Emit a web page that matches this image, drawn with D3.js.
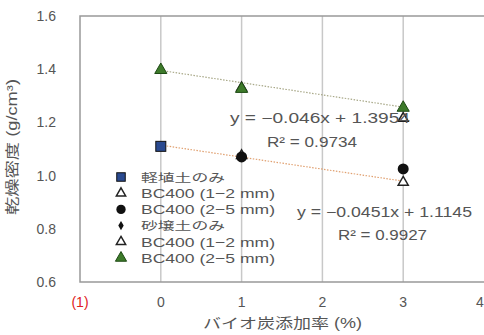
<!DOCTYPE html>
<html><head><meta charset="utf-8">
<script src="https://cdn.jsdelivr.net/npm/d3@7"></script>
<style>body{margin:0;background:#fff}svg{display:block}text{font-family:"Liberation Sans","Noto Sans CJK JP",sans-serif}</style>
</head><body>
<svg id="c" width="484" height="335"></svg>
<script>
const xTicks = [-1, 0, 1, 2, 3, 4];
const xTickLabels = ["(1)", "0", "1", "2", "3", "4"];
const yTicks = [0.6, 0.8, 1.0, 1.2, 1.4, 1.6];
const seriesNames = ["軽埴土のみ", "BC400 (1−2 mm)", "BC400 (2−5 mm)", "砂壌土のみ", "BC400 (1−2 mm)", "BC400 (2−5 mm)"];
const seriesX = [[0], [1, 3], [1, 3], [0], [1, 3], [0, 1, 3]];
const seriesY = [[1.11], [1.075, 0.975], [1.07, 1.025], [1.40], [1.33, 1.215], [1.397, 1.326, 1.255]];
const trendSlope = [-0.0451, -0.046];
const trendIntercept = [1.1145, 1.3954];
const trendText = [["y = −0.0451x + 1.1145", "R² = 0.9927"], ["y = −0.046x + 1.3954", "R² = 0.9734"]];
const xTitle = "バイオ炭添加率 (%)";
const yTitle = "乾燥密度 (g/cm³)";

const svg = d3.select("#c");
const L = 80, R = 484, T = 16, B = 282;
const x = d3.scaleLinear().domain([-1, 4]).range([L, R]);
const y = d3.scaleLinear().domain([0.6, 1.6]).range([B, T]);
const txt = "#555";

// vertical grid
svg.append("g").selectAll("line").data([0, 1, 2, 3]).join("line")
  .attr("x1", d => x(d)).attr("x2", d => x(d)).attr("y1", T).attr("y2", B)
  .attr("stroke", "#c8c8c8").attr("stroke-width", 1.5);

// frame
svg.append("path").attr("d", `M${R},${T}H${L}V${B}H${R}`).attr("fill", "none")
  .attr("stroke", "#999").attr("stroke-width", 1.5);

// y ticks
svg.append("g").selectAll("text").data(yTicks).join("text")
  .attr("x", 56).attr("y", d => y(d) + 5).attr("text-anchor", "end")
  .attr("font-size", 14).attr("fill", txt).text(d => d.toFixed(1));

// x ticks
svg.append("g").selectAll("text").data(xTicks).join("text")
  .attr("x", d => d === 4 ? x(d) - 4 : x(d)).attr("y", 307).attr("text-anchor", "middle")
  .attr("font-size", 14).attr("fill", (d, i) => i === 0 ? "#e02020" : txt)
  .text((d, i) => xTickLabels[i]);

svg.append("text").attr("x", 203).attr("y", 328)
  .attr("font-size", 14).attr("fill", txt)
  .attr("textLength", 159).attr("lengthAdjust", "spacingAndGlyphs").text(xTitle);
svg.append("text").attr("transform", "translate(17,215) rotate(-90)")
  .attr("font-size", 14).attr("fill", txt)
  .attr("textLength", 136).attr("lengthAdjust", "spacingAndGlyphs").text(yTitle);

// trend lines
const trendColor = ["#e0a070", "#a8a888"];
trendSlope.forEach((s, i) => {
  svg.append("line").attr("x1", x(0)).attr("y1", y(trendIntercept[i]))
    .attr("x2", x(3)).attr("y2", y(trendIntercept[i] + 3 * s))
    .attr("stroke", trendColor[i]).attr("stroke-width", 1.2).attr("stroke-dasharray", "1.5,1.5");
});

// markers
function marker(g, i, cx, cy, small) {
  const k = small ? 0.85 : 1;
  if (i === 0) {
    g.append("rect").attr("x", cx - 5 * k).attr("y", cy - 5 * k).attr("width", 10 * k).attr("height", 10 * k)
      .attr("fill", "#2a4a90").attr("stroke", "#111").attr("stroke-width", 1);
  } else if (i === 1 || i === 4) {
    g.append("path").attr("d", d3.symbol(d3.symbolTriangle, 44 * k)()).attr("transform", `translate(${cx},${cy})`)
      .attr("fill", "#fff").attr("stroke", "#222").attr("stroke-width", 1.5);
  } else if (i === 2) {
    g.append("circle").attr("cx", cx).attr("cy", cy).attr("r", 5.5 * k).attr("fill", "#111");
  } else if (i === 3) {
    g.append("path").attr("d", d3.symbol(d3.symbolDiamond, 30 * k)()).attr("transform", `translate(${cx},${cy})`)
      .attr("fill", "#111");
  } else {
    g.append("path").attr("d", d3.symbol(d3.symbolTriangle, 64 * k)()).attr("transform", `translate(${cx},${cy})`)
      .attr("fill", "#3d7a2a").attr("stroke", "#1e4a14").attr("stroke-width", 1);
  }
}
const mg = svg.append("g");
[3, 4, 1, 2, 0, 5].forEach(i => {
  seriesX[i].forEach((xv, j) => marker(mg, i, x(xv), y(seriesY[i][j]), false));
});

// legend
const lg = svg.append("g");
const legLen = [84, 134, 134, 84, 134, 134];
const legJa = [true, false, false, true, false, false];
seriesNames.forEach((n, i) => {
  const ly = 177 + i * 16.2;
  marker(lg, i, 121, ly, true);
  lg.append("text").attr("x", 141).attr("y", ly + (legJa[i] ? 4.5 : 5))
    .attr("font-size", legJa[i] ? 11 : 13).attr("fill", txt)
    .attr("textLength", legLen[i]).attr("lengthAdjust", "spacingAndGlyphs").text(n);
});

// equation texts  [x, y, len, rx, ry, rlen]
const eqPos = [[297, 217, 175, 338, 240, 89], [230, 123, 180, 267, 147, 90]];
trendText.forEach((t, i) => {
  const p = eqPos[i];
  svg.append("text").attr("x", p[0]).attr("y", p[1])
    .attr("font-size", 14).attr("fill", txt).attr("textLength", p[2]).attr("lengthAdjust", "spacingAndGlyphs").text(t[0]);
  svg.append("text").attr("x", p[3]).attr("y", p[4])
    .attr("font-size", 14).attr("fill", txt).attr("textLength", p[5]).attr("lengthAdjust", "spacingAndGlyphs").text(t[1]);
});
</script>
</body></html>
